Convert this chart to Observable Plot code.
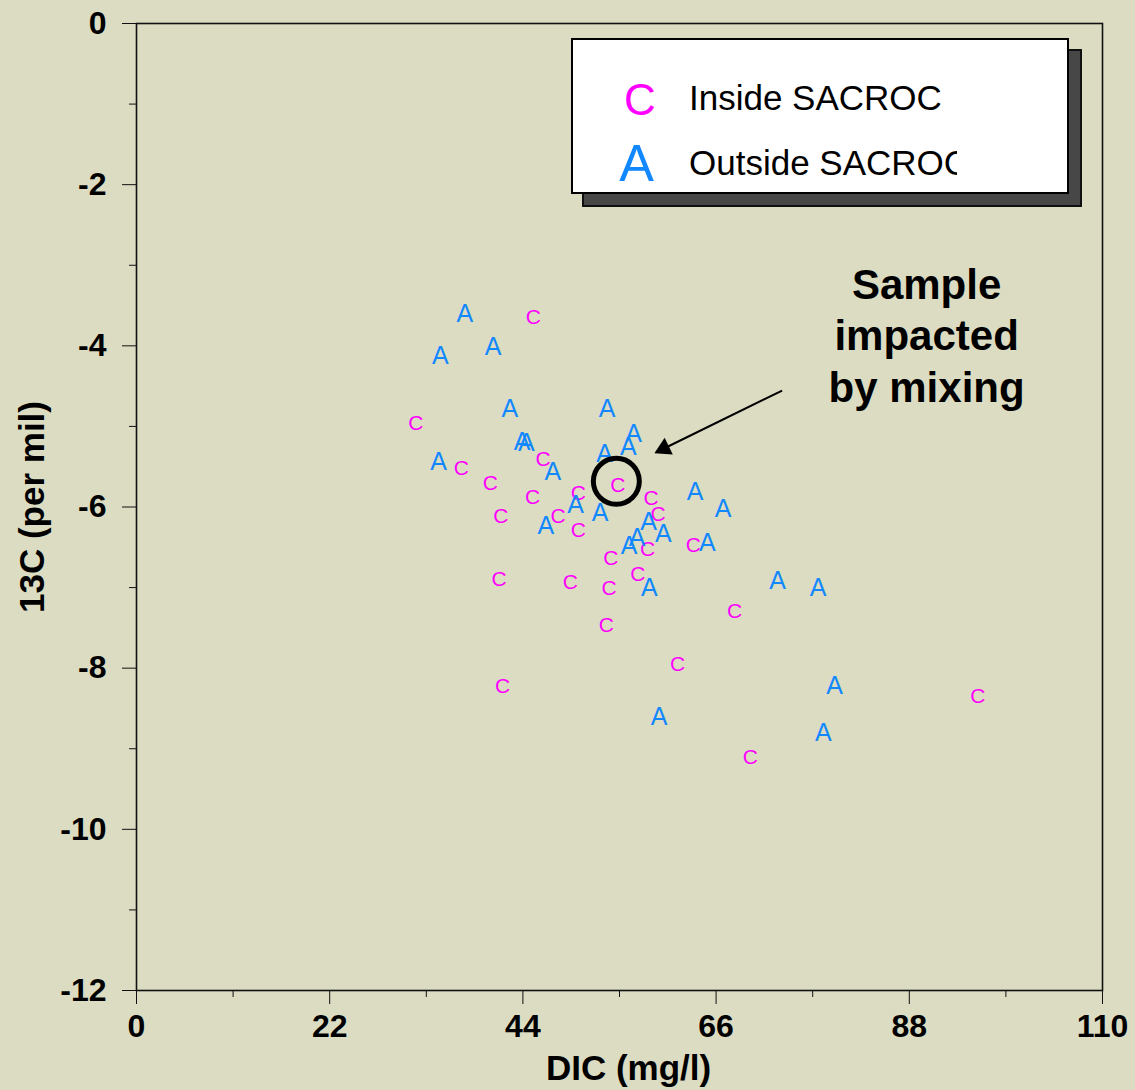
<!DOCTYPE html>
<html>
<head>
<meta charset="utf-8">
<script src="https://cdn.jsdelivr.net/npm/d3@7"></script>
<script src="https://cdn.jsdelivr.net/npm/@observablehq/plot@0.6"></script>
<style>
  html, body { margin: 0; padding: 0; background: #dcdcc2; }
  #wrap { position: relative; width: 1135px; height: 1090px; font-family: "Liberation Sans", Arial, sans-serif; }
  #wrap svg { position: absolute; left: 0; top: 0; }
  .shadow { position: absolute; left: 582px; top: 49px; width: 496px; height: 154px; background: #474747; border: 2px solid #111; }
  .legend { position: absolute; left: 571px; top: 38px; width: 494px; height: 152px; background: #fff; border: 2px solid #000; }
  .sym { position: absolute; transform: translate(-50%, -50%); line-height: 1; }
  .lab { position: absolute; font-size: 35px; color: #000; white-space: nowrap; overflow: hidden; line-height: 1; }
</style>
</head>
<body>
<div id="wrap"></div>
<script>
// Data
const insideDIC  = [45.2, 31.8, 37.0, 40.3, 46.3, 45.1, 41.5, 48.0, 50.3, 50.3, 54.8, 54.0, 41.3, 49.4, 53.8, 53.5, 57.1, 58.2, 58.6, 59.4, 63.4, 68.1, 61.6, 41.7, 69.9, 95.8];
const insideD13C = [-3.64, -4.96, -5.52, -5.71, -5.41, -5.88, -6.11, -6.11, -5.83, -6.29, -5.73, -6.63, -6.90, -6.94, -7.01, -7.47, -6.84, -6.53, -5.89, -6.09, -6.47, -7.30, -7.95, -8.23, -9.11, -8.35];

const outsideDIC  = [37.4, 34.6, 40.6, 42.5, 53.6, 43.9, 44.4, 34.4, 47.4, 56.6, 56.0, 53.3, 63.6, 66.8, 50.0, 52.8, 46.6, 57.0, 58.3, 60.0, 56.1, 65.0, 58.4, 73.0, 77.6, 79.5, 59.5, 78.2];
const outsideD13C = [-3.61, -4.13, -4.02, -4.79, -4.79, -5.19, -5.21, -5.44, -5.56, -5.09, -5.26, -5.34, -5.81, -6.03, -5.97, -6.07, -6.24, -6.38, -6.19, -6.33, -6.49, -6.45, -7.00, -6.92, -7.00, -8.22, -8.60, -8.81];

const xTicks = [0, 22, 44, 66, 88, 110];
const xMinor = [11, 33, 55, 77, 99];
const yTicks = [0, -2, -4, -6, -8, -10, -12];
const yMinor = [-1, -3, -5, -7, -9, -11];

const seriesNames = ["Inside SACROC", "Outside SACROC"];
const seriesSymbols = ["C", "A"];
const seriesColors = ["#ff00ff", "#1188ff"];

// Annotation (data coordinates)
const highlight = [{x: 54.64, y: -5.68}];
const arrowLine = [{x1: 73.52, y1: -4.555, x2: 60.06, y2: -5.274}];
const arrowHead = [{x: 60.06, y: -5.274}];
const note = [{x: 89.97, y: -2.96, label: "Sample\nimpacted\nby mixing"}];

const FONT = "Liberation Sans, Arial, sans-serif";
const inside = insideDIC.map((x, i) => ({x, y: insideD13C[i]}));
const outside = outsideDIC.map((x, i) => ({x, y: outsideD13C[i]}));

const plot = Plot.plot({
  width: 1135,
  height: 1090,
  marginLeft: 136,
  marginRight: 33,
  marginTop: 23,
  marginBottom: 100,
  style: {background: "transparent", fontFamily: FONT, color: "#000", overflow: "visible"},
  x: {domain: [0, 110]},
  y: {domain: [-12, 0]},
  marks: [
    Plot.axisX({ticks: xTicks, tickSize: 14, tickPadding: 10, fontSize: 32, fontWeight: "bold", tickFormat: d => String(d), label: null, stroke: "#111"}),
    Plot.axisX({ticks: xMinor, tickSize: 7, tickFormat: () => "", label: null, stroke: "#111"}),
    Plot.axisY({ticks: yTicks, tickSize: 14, tickPadding: 16, fontSize: 32, fontWeight: "bold", tickFormat: d => String(d), label: null, stroke: "#111"}),
    Plot.axisY({ticks: yMinor, tickSize: 7, tickFormat: () => "", label: null, stroke: "#111"}),
    Plot.frame({stroke: "#111", strokeWidth: 1.6}),
    Plot.text(["DIC (mg/l)"], {frameAnchor: "bottom", dy: 78, dx: 9, textAnchor: "middle", lineAnchor: "middle", fontSize: 35, fontWeight: "bold", fill: "#000"}),
    Plot.text(["13C (per mil)"], {frameAnchor: "left", dx: -104, rotate: -90, textAnchor: "middle", lineAnchor: "middle", fontSize: 35, fontWeight: "bold", fill: "#000"}),
    Plot.text(inside, {x: "x", y: "y", text: () => seriesSymbols[0], fill: seriesColors[0], fontSize: 21, textAnchor: "middle", lineAnchor: "middle"}),
    Plot.text(outside, {x: "x", y: "y", text: () => seriesSymbols[1], fill: seriesColors[1], fontSize: 25, textAnchor: "middle", lineAnchor: "middle"}),
    Plot.dot(highlight, {x: "x", y: "y", r: 23, stroke: "#000", strokeWidth: 5, fill: "none"}),
    Plot.link(arrowLine, {x1: "x1", y1: "y1", x2: "x2", y2: "y2", stroke: "#000", strokeWidth: 2}),
    Plot.dot(arrowHead, {x: "x", y: "y", symbol: "triangle", r: 6.85, fill: "#000", stroke: "none", rotate: 243.8}),
    Plot.text(note, {x: "x", y: "y", text: "label", textAnchor: "middle", lineAnchor: "top", lineHeight: 1.226, fontSize: 42, fontWeight: "bold", fill: "#000"})
  ]
});

const wrap = document.getElementById("wrap");
wrap.appendChild(plot);

// Legend overlay
const shadow = document.createElement("div");
shadow.className = "shadow";
wrap.appendChild(shadow);
const legend = document.createElement("div");
legend.className = "legend";
wrap.appendChild(legend);

const legendRows = [
  {sym: seriesSymbols[0], color: seriesColors[0], size: 44, sx: 640, sy: 100, text: seriesNames[0], base: 112, clip: 320},
  {sym: seriesSymbols[1], color: seriesColors[1], size: 52, sx: 636.5, sy: 163, text: seriesNames[1], base: 177, clip: 268}
];
legendRows.forEach(r => {
  const s = document.createElement("div");
  s.className = "sym";
  s.style.left = r.sx + "px";
  s.style.top = r.sy + "px";
  s.style.fontSize = r.size + "px";
  s.style.color = r.color;
  s.textContent = r.sym;
  wrap.appendChild(s);
  const t = document.createElement("div");
  t.className = "lab";
  t.style.left = "689px";
  t.style.top = (r.base - 32) + "px";
  t.style.width = r.clip + "px";
  t.style.height = "40px";
  t.textContent = r.text;
  wrap.appendChild(t);
});
</script>
</body>
</html>
